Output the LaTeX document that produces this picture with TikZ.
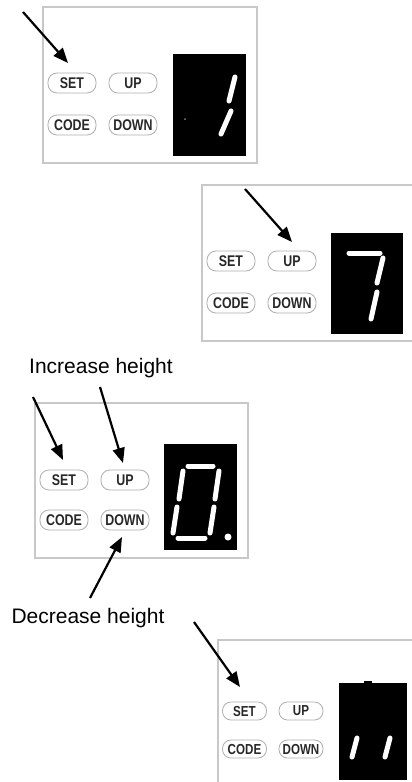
\documentclass[tikz,border=0pt]{standalone}
\usepackage{fontspec}
\setmainfont{Liberation Sans}
\newfontfamily\btnfont[FakeStretch=0.8]{Liberation Sans}
\usetikzlibrary{arrows.meta}
\definecolor{panelgray}{RGB}{200,200,200}
\definecolor{btngray}{RGB}{175,175,175}
\definecolor{btntext}{RGB}{40,40,40}
\begin{document}
\begin{tikzpicture}[x=1pt,y=-1pt,
  panel/.style={draw=panelgray, line width=1.2pt, fill=white},
  btn/.style={draw=btngray, line width=0.8pt, fill=white, rounded corners=9pt,
    minimum width=48pt, minimum height=20pt, inner sep=0pt,
    font=\btnfont\bfseries\fontsize{15.5}{15.5}\selectfont, text=btntext},
  btnsm/.style={btn, minimum width=44pt, minimum height=18pt, rounded corners=8.5pt,
    font=\btnfont\bfseries\fontsize{14.5}{14.5}\selectfont},
  disp/.style={fill=black},
  seg/.style={draw=white, line width=5pt, line cap=round},
  ptr/.style={-{Triangle[length=15pt,width=12pt]}, line width=2.2pt, black},
  lbl/.style={font=\fontsize{21}{21}\selectfont, anchor=base, inner sep=0pt}
]
\useasboundingbox (0,0) rectangle (412,782);
\clip (0,0) rectangle (412,782);
\fill[white] (0,0) rectangle (412,782);

% ---------- Panel 1 ----------
\draw[panel] (43,7) rectangle (257,163);
\node[btn] (set1) at (72,83) {SET};
\node[btn] (up1) at (133,83) {UP};
\node[btn] (code1) at (72,125) {CODE};
\node[btn] (down1) at (133,125) {DOWN};
\fill[disp] (173,54) rectangle (246,156);
\draw[seg] (235,77) -- (229,101);
\draw[seg] (231,111) -- (221,134);
\fill[gray] (185,119) circle (1);
\coordinate (t1) at (23,12);
\coordinate (h1) at (68,63);
\draw[ptr] (t1) -- (h1);

% ---------- Panel 2 ----------
\draw[panel] (202,185) rectangle (416,341);
\node[btn] (set2) at (231,261) {SET};
\node[btn] (up2) at (292,261) {UP};
\node[btn] (code2) at (231,303) {CODE};
\node[btn] (down2) at (292,303) {DOWN};
\fill[disp] (331,233) rectangle (403,334);
\draw[seg] (349,253) -- (380,253);
\draw[seg] (383,258) -- (377,283);
\draw[seg] (377,292) -- (371,319);
\coordinate (t2) at (245,189);
\coordinate (h2) at (292,242);
\draw[ptr] (t2) -- (h2);

% ---------- Panel 3 ----------
\node[lbl] (inc) at (101,373) {Increase height};
\draw[panel] (35,403) rectangle (248,558);
\node[btn] (set3) at (64,480) {SET};
\node[btn] (up3) at (125,480) {UP};
\node[btn] (code3) at (64,520) {CODE};
\node[btn] (down3) at (125,520) {DOWN};
\fill[disp] (164,444) rectangle (237,550);
\draw[seg] (188,466) -- (213,466);
\draw[seg] (183,471) -- (179,499);
\draw[seg] (219,471) -- (215,499);
\draw[seg] (177,507) -- (173,533);
\draw[seg] (214,507) -- (210,533);
\draw[seg] (178,538) -- (205,538);
\fill[white] (228,537) circle (3.5);
\coordinate (t3a) at (33,397);
\coordinate (h3a) at (63,460);
\draw[ptr] (t3a) -- (h3a);
\coordinate (t3b) at (100,387);
\coordinate (h3b) at (123,463);
\draw[ptr] (t3b) -- (h3b);
\coordinate (t3c) at (90,598);
\coordinate (h3c) at (122,537);
\draw[ptr] (t3c) -- (h3c);
\node[lbl] (dec) at (88,623) {Decrease height};

% ---------- Panel 4 ----------
\draw[panel] (218,640) rectangle (432,796);
\node[btnsm] (set4) at (244.5,711) {SET};
\node[btnsm] (up4) at (301,711) {UP};
\node[btnsm] (code4) at (244.5,749) {CODE};
\node[btnsm] (down4) at (301,749) {DOWN};
\fill[disp] (339,683) rectangle (407,780);
\fill[disp] (364,681) rectangle (372,684);
\draw[seg] (357,738) -- (352,757);
\draw[seg] (390,738) -- (385,757);
\coordinate (t4) at (194,622);
\coordinate (h4) at (240,687);
\draw[ptr] (t4) -- (h4);
\end{tikzpicture}
\end{document}
